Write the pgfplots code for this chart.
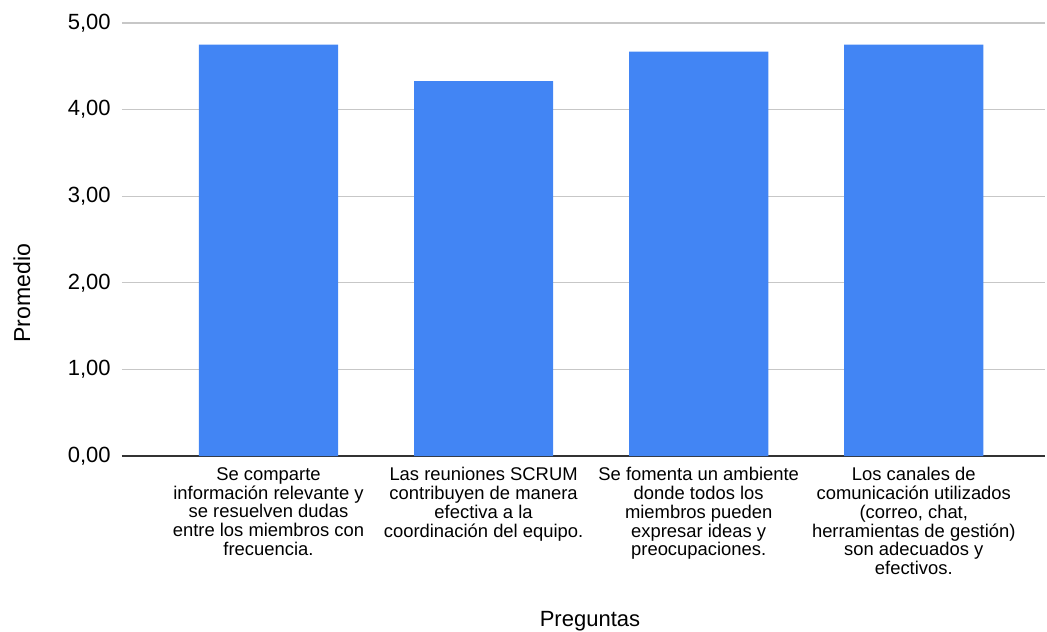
\documentclass[border=0pt]{standalone}
\usepackage{pgfplots}
\pgfplotsset{compat=1.18}
\usepackage{fontspec}
\setmainfont{Liberation Sans}
\definecolor{gblue}{HTML}{4285F4}
\begin{document}
\begin{tikzpicture}
\useasboundingbox (-91.5pt,-132pt) rectangle (693.75pt,342pt);
\begin{axis}[
  at={(0,0)}, anchor=south west,
  scale only axis,
  width=692.25pt, height=324.75pt,
  xmin=-0.681, xmax=3.61,
  ymin=0, ymax=5,
  ytick={0,1,2,3,4,5},
  xtick={0,1,2,3},
  xticklabels={
    {Se comparte\\información relevante y\\se resuelven dudas\\entre los miembros con\\frecuencia.},
    {Las reuniones SCRUM\\contribuyen de manera\\efectiva a la\\coordinación del equipo.},
    {Se fomenta un ambiente\\donde todos los\\miembros pueden\\expresar ideas y\\preocupaciones.},
    {Los canales de\\comunicación utilizados\\(correo, chat,\\herramientas de gestión)\\son adecuados y\\efectivos.}},
  major tick length=0pt,
  axis x line*=bottom,
  axis y line*=left,
  y axis line style={draw=none},
  x axis line style={-, draw=black!80, line width=1pt},
  ymajorgrids,
  grid style={black!22, line width=0.8pt},
  /pgf/number format/.cd, fixed, fixed zerofill, precision=2, use comma, assume math mode=true,
  /pgfplots/.cd,
  yticklabel style={font=\fontsize{16.5}{19}\selectfont, xshift=-5pt},
  xticklabel style={font=\fontsize{13.8}{14.1}\selectfont, align=center, anchor=north, yshift=-5pt},
  every axis y label/.style={at={(axis description cs:0,0.376)}, xshift=-75pt, rotate=90, anchor=center, font=\fontsize{17.3}{20}\selectfont},
  every axis x label/.style={at={(axis description cs:0.507,0)}, yshift=-124pt, anchor=center, font=\fontsize{16.5}{19}\selectfont},
  ylabel={Promedio},
  xlabel={Preguntas},
  clip=false,
]
\addplot[ybar, bar width=0.647, fill=gblue, draw=none] coordinates {(0,4.75) (1,4.33) (2,4.67) (3,4.75)};
\end{axis}
\end{tikzpicture}
\end{document}
